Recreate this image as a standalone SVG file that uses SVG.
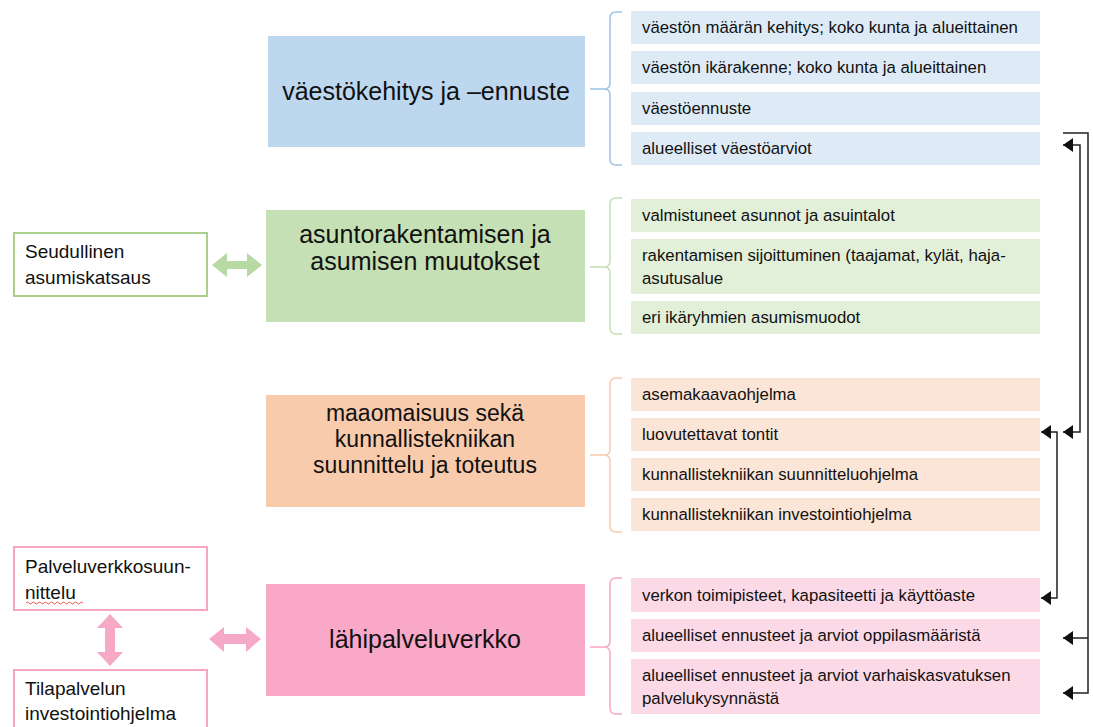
<svg xmlns="http://www.w3.org/2000/svg" width="1093" height="727" viewBox="0 0 1093 727">
  <style>
    text { font-family: "Liberation Sans", Arial, sans-serif; fill: #111; }
    .main { font-size: 25px; text-anchor: middle; }
    .main3 { font-size: 23px; text-anchor: middle; }
    .item { font-size: 16.8px; }
    .side { font-size: 19px; }
    .brace { fill: none; stroke-width: 1.5; }
    .link { fill: none; stroke: #222; stroke-width: 1.5; }
  </style>
  <defs>
    <marker id="tip" markerUnits="userSpaceOnUse" markerWidth="10" markerHeight="14" refX="10" refY="7" orient="auto-start-reverse">
      <path d="M0,0 L10,7 L0,14 Z" fill="#111"/>
    </marker>
  </defs>

  <rect width="1093" height="727" fill="#ffffff"/>

  <!-- population -->
  <g id="vaesto">
    <rect x="268" y="36" width="317" height="111" fill="#BDD7EE"/>
    <text class="main" x="426" y="100">väestökehitys ja –ennuste</text>
    <path class="brace" stroke="#9DC3E6" d="M622,12 H616 Q610,12 610,18 V83 Q610,89 604,89 H590 M604,89 Q610,89 610,95 V159 Q610,165 616,165 H622"/>
    <g fill="#DEEBF7">
      <rect x="631" y="11" width="409" height="33"/>
      <rect x="631" y="51" width="409" height="33"/>
      <rect x="631" y="92" width="409" height="33"/>
      <rect x="631" y="132" width="409" height="33"/>
    </g>
    <text class="item" x="642" y="33">väestön määrän kehitys; koko kunta ja alueittainen</text>
    <text class="item" x="642" y="73">väestön ikärakenne; koko kunta ja alueittainen</text>
    <text class="item" x="642" y="114">väestöennuste</text>
    <text class="item" x="642" y="154">alueelliset väestöarviot</text>
  </g>

  <!-- housing -->
  <g id="asuminen">
    <rect x="266" y="210" width="319" height="112" fill="#C5E0B4"/>
    <text class="main" x="425" y="243">asuntorakentamisen ja</text>
    <text class="main" x="425" y="270">asumisen muutokset</text>
    <path class="brace" stroke="#C5E0B4" d="M622,198 H616 Q610,198 610,204 V261 Q610,267 604,267 H590 M604,267 Q610,267 610,273 V328 Q610,334 616,334 H622"/>
    <g fill="#E2F0D9">
      <rect x="631" y="199" width="409" height="33"/>
      <rect x="631" y="239" width="409" height="55"/>
      <rect x="631" y="301" width="409" height="33"/>
    </g>
    <text class="item" x="642" y="221">valmistuneet asunnot ja asuintalot</text>
    <text class="item" x="642" y="261">rakentamisen sijoittuminen (taajamat, kylät, haja-</text>
    <text class="item" x="642" y="284">asutusalue</text>
    <text class="item" x="642" y="323">eri ikäryhmien asumismuodot</text>
  </g>

  <g id="seudullinen">
    <rect x="14" y="233" width="193" height="63" fill="#fff" stroke="#A9D18E" stroke-width="2"/>
    <text class="side" x="25" y="258">Seudullinen</text>
    <text class="side" x="25" y="284">asumiskatsaus</text>
  </g>

  <!-- land and engineering -->
  <g id="maaomaisuus">
    <rect x="266" y="395" width="319" height="112" fill="#F8CBAD"/>
    <text class="main3" x="425" y="421">maaomaisuus sekä</text>
    <text class="main3" x="425" y="447">kunnallistekniikan</text>
    <text class="main3" x="425" y="473">suunnittelu ja toteutus</text>
    <path class="brace" stroke="#F8CBAD" d="M622,378 H616 Q610,378 610,384 V449 Q610,455 604,455 H590 M604,455 Q610,455 610,461 V526 Q610,532 616,532 H622"/>
    <g fill="#FBE5D6">
      <rect x="631" y="378" width="409" height="33"/>
      <rect x="631" y="418" width="409" height="33"/>
      <rect x="631" y="458" width="409" height="33"/>
      <rect x="631" y="498" width="409" height="33"/>
    </g>
    <text class="item" x="642" y="400">asemakaavaohjelma</text>
    <text class="item" x="642" y="440">luovutettavat tontit</text>
    <text class="item" x="642" y="480">kunnallistekniikan suunnitteluohjelma</text>
    <text class="item" x="642" y="520">kunnallistekniikan investointiohjelma</text>
  </g>

  <!-- local service network -->
  <g id="lahipalvelu">
    <rect x="266" y="584" width="319" height="112" fill="#F9A8C8"/>
    <text class="main" x="425" y="648">lähipalveluverkko</text>
    <path class="brace" stroke="#F9A8C8" d="M622,578 H616 Q610,578 610,584 V641 Q610,647 604,647 H590 M604,647 Q610,647 610,653 V708 Q610,714 616,714 H622"/>
    <g fill="#FCD9E6">
      <rect x="631" y="578" width="409" height="34"/>
      <rect x="631" y="619" width="409" height="33"/>
      <rect x="631" y="659" width="409" height="55"/>
    </g>
    <text class="item" x="642" y="601">verkon toimipisteet, kapasiteetti ja käyttöaste</text>
    <text class="item" x="642" y="641">alueelliset ennusteet ja arviot oppilasmääristä</text>
    <text class="item" x="642" y="681">alueelliset ennusteet ja arviot varhaiskasvatuksen</text>
    <text class="item" x="642" y="704">palvelukysynnästä</text>
  </g>

  <g id="palveluverkko">
    <rect x="14" y="547" width="193" height="63" fill="#fff" stroke="#F4A6C4" stroke-width="2"/>
    <text class="side" x="25" y="573">Palveluverkkosuun-</text>
    <text class="side" x="25" y="599">nittelu</text>
    <path d="M26,603 q1.5,-2 3,0 t3,0 t3,0 t3,0 t3,0 t3,0 t3,0 t3,0 t3,0 t3,0 t3,0 t3,0 t3,0 t3,0 t3,0 t3,0 t3,0 t3,0 t3,0" fill="none" stroke="#E03030" stroke-width="0.8"/>
  </g>

  <g id="tilapalvelu">
    <rect x="14" y="670" width="193" height="70" fill="#fff" stroke="#F4A6C4" stroke-width="2"/>
    <text class="side" x="25" y="695">Tilapalvelun</text>
    <text class="side" x="25" y="720">investointiohjelma</text>
  </g>

  <!-- connectors -->
  <g id="connectors">
    <!-- broad two-way arrows on the left -->
    <polygon fill="#B7D9A3" points="212,265 227,253 227,261 247,261 247,253 262,265 247,277 247,269 227,269 227,277"/>
    <polygon fill="#F6A9C6" points="209,639 224,627 224,634 246,634 246,627 261,639 246,652 246,644 224,644 224,652"/>
    <polygon fill="#F6A9C6" points="110,614 123,628 115,628 115,652 123,652 110,666 97,652 105,652 105,628 97,628"/>

    <!-- links between detail rows -->
    <path class="link" d="M1063,145 H1080 V432 H1063" marker-start="url(#tip)" marker-end="url(#tip)"/>
    <path class="link" d="M1063,133 H1088 V693 H1063" marker-end="url(#tip)"/>
    <path class="link" d="M1088,638 H1063" marker-end="url(#tip)"/>
    <path class="link" d="M1041,432 H1057 V598 H1041" marker-start="url(#tip)" marker-end="url(#tip)"/>
  </g>
</svg>
